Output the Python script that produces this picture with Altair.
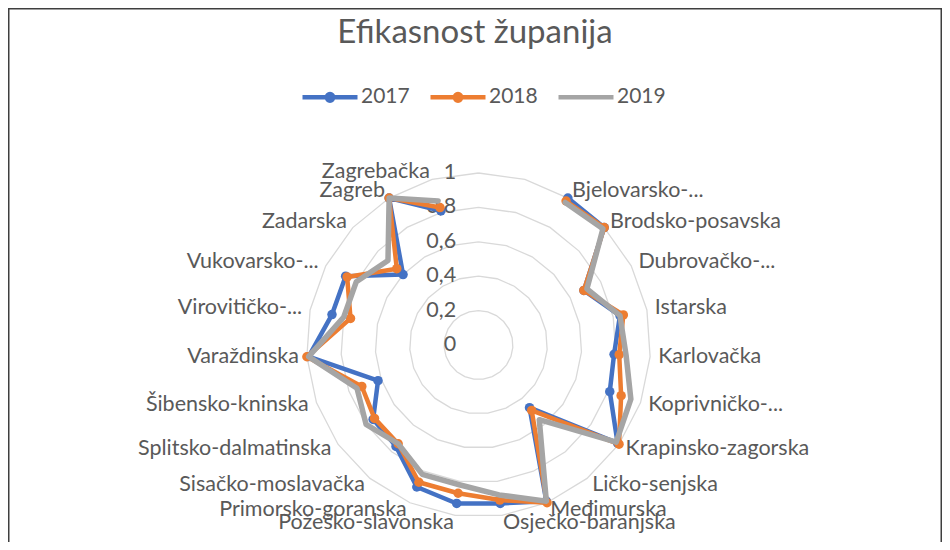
import altair as alt
import numpy as np
import pandas as pd

# ---------------- data ----------------
categories = ["", "", "Bjelovarsko-...", "Brodsko-posavska", "Dubrovačko-...", "Istarska",
              "Karlovačka", "Koprivničko-...", "Krapinsko-zagorska", "Ličko-senjska",
              "Međimurska", "Osječko-baranjska", "Požeško-slavonska", "Primorsko-goranska",
              "Sisačko-moslavačka", "Splitsko-dalmatinska", "Šibensko-kninska", "Varaždinska",
              "Virovitičko-...", "Vukovarsko-...", "Zadarska", "Zagreb", "Zagrebačka"]
v2017 = [None, None, 1.00, 1.00, 0.69, 0.84, 0.79, 0.81, 0.99, 0.47, 0.99, 0.93, 0.93,
         0.90, 0.76, 0.75, 0.62, 0.99, 0.87, 0.87, 0.60, 1.00, 0.81]
v2018 = [None, None, 0.98, 1.00, 0.69, 0.86, 0.82, 0.88, 1.00, 0.49, 1.00, 0.91, 0.87,
         0.87, 0.74, 0.74, 0.72, 1.00, 0.76, 0.86, 0.65, 1.00, 0.83]
v2019 = [None, None, 0.97, 0.99, 0.71, 0.84, 0.86, 0.94, 0.98, 0.56, 0.99, 0.88, 0.82,
         0.82, 0.74, 0.80, 0.75, 0.99, 0.80, 0.80, 0.72, 1.00, 0.87]
years = ["2017", "2018", "2019"]
series = [v2017, v2018, v2019]
ticks = [0, 0.2, 0.4, 0.6, 0.8, 1.0]
tick_labels = ["0", "0,2", "0,4", "0,6", "0,8", "1"]
title_text = "Efikasnost županija"

colors = ["#4472C4", "#ED7D31", "#A5A5A5"]
TXT = "#595959"
FONT = "Lato"
FS = 21.5

# ---------------- geometry (polar -> cartesian) ----------------
N = len(categories)
step = 2 * np.pi / N

rows = []
for yr, vals in zip(years, series):
    for i, v in enumerate(vals):
        if v is None:
            continue
        th = i * step
        rows.append(dict(year=yr, idx=i, cat=categories[i], value=v,
                         x=v * np.sin(th), y=v * np.cos(th)))
df = pd.DataFrame(rows)

ring_rows = []
for t in ticks[1:]:
    for i in range(N + 1):
        th = (i % N) * step
        ring_rows.append(dict(ring=t, idx=i, x=t * np.sin(th), y=t * np.cos(th)))
rings = pd.DataFrame(ring_rows)

tick_df = pd.DataFrame(dict(y=ticks, label=tick_labels, x=[-0.13] * len(ticks)))

lab_rows = []
RL = 1.047
for i, c in enumerate(categories):
    if not c:
        continue
    th = i * step
    lab_rows.append(dict(label=c, x=RL * np.sin(th), y=RL * np.cos(th),
                         side="left" if np.sin(th) > 0 else "right"))
labs = pd.DataFrame(lab_rows)

# ---------------- scales ----------------
W, H = 934, 534
K = 172.0  # px per unit
cx_page, cy_page = 478.5, 345.0
xmin = -(cx_page - 8) / K
xmax = xmin + W / K
ymax = (cy_page - 8) / K
ymin = ymax - H / K
xs = alt.Scale(domain=[xmin, xmax], nice=False, zero=False)
ys = alt.Scale(domain=[ymin, ymax], nice=False, zero=False)
X = alt.X("x:Q", scale=xs, axis=None)
Y = alt.Y("y:Q", scale=ys, axis=None)

dot_path = "M-1,0L1,0M0.12,0A0.12,0.12,0,1,1,-0.12,0A0.12,0.12,0,1,1,0.12,0Z"
line_path = "M-1,0L1,0M0,-0.12M0,0.12"

legend = alt.Legend(
    orient="none", legendX=292, legendY=59, direction="horizontal", title=None,
    symbolType=alt.ExprRef(expr=f"datum.value === '2019' ? '{line_path}' : '{dot_path}'"),
    symbolSize=3025, symbolStrokeWidth=4.5,
    labelFont=FONT, labelFontSize=21, labelColor=TXT, labelOffset=1,
    columnPadding=11,
)
color = alt.Color("year:N", scale=alt.Scale(domain=years, range=colors), legend=legend)

# ---------------- layers ----------------
grid = alt.Chart(rings).mark_line(color="#D9D9D9", strokeWidth=1.3).encode(
    x=X, y=Y, detail="ring:N", order="idx:Q")

ticks_layer = alt.Chart(tick_df).mark_text(
    align="right", baseline="middle", font=FONT, fontSize=FS, color=TXT).encode(
    x=X, y=Y, text="label:N")

lab_left = alt.Chart(labs[labs.side == "left"]).mark_text(
    align="left", baseline="middle", font=FONT, fontSize=FS, color=TXT).encode(
    x=X, y=Y, text="label:N")
lab_right = alt.Chart(labs[labs.side == "right"]).mark_text(
    align="right", baseline="middle", font=FONT, fontSize=FS, color=TXT).encode(
    x=X, y=Y, text="label:N")

series_layers = []
widths = [4.5, 4.5, 5.5]
for k, yr in enumerate(years):
    sub = df[df.year == yr]
    series_layers.append(
        alt.Chart(sub).mark_line(strokeWidth=widths[k], strokeJoin="round", strokeCap="round").encode(
            x=X, y=Y, order="idx:Q", color=color))
    if yr != "2019":
        series_layers.append(
            alt.Chart(sub).mark_circle(size=90, opacity=1, color=colors[k]).encode(x=X, y=Y))

one = pd.DataFrame({"a": [0]})
border_c = "#3f3f3f"
borders = [
    alt.Chart(one).mark_rule(color=border_c, strokeWidth=1.5).encode(
        x=alt.value(0.75), y=alt.value(0), y2=alt.value(H)),
    alt.Chart(one).mark_rule(color=border_c, strokeWidth=1.5).encode(
        x=alt.value(W - 0.75), y=alt.value(0), y2=alt.value(H)),
    alt.Chart(one).mark_rule(color=border_c, strokeWidth=1.5).encode(
        x=alt.value(0), x2=alt.value(W), y=alt.value(0.75)),
]

chart = alt.layer(grid, ticks_layer, lab_left, lab_right, *series_layers, *borders).properties(
    width=W, height=H,
    title=alt.TitleParams(title_text, font=FONT, fontSize=33, fontWeight="normal",
                          color=TXT, anchor="middle", baseline="alphabetic",
                          offset=-38, dy=31),
    autosize=alt.AutoSizeParams(type="none"),
    padding=0,
).configure_view(stroke=None)

chart.save("out.html", embed_options={"renderer": "svg", "actions": False})
